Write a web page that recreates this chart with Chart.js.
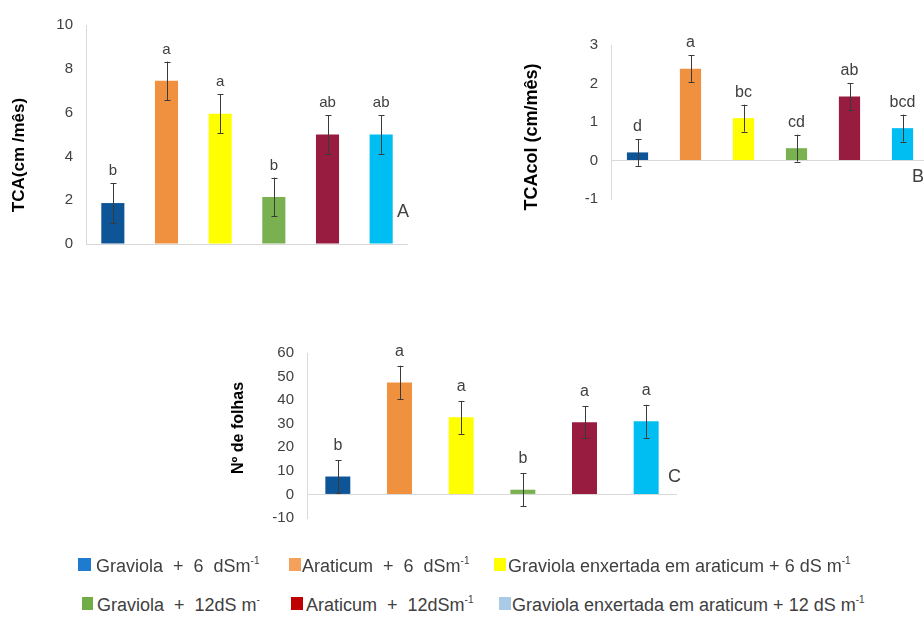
<!DOCTYPE html>
<html>
<head>
<meta charset="utf-8">
<script src="https://cdn.jsdelivr.net/npm/chart.js@4.4.1/dist/chart.umd.min.js"></script>
<style>
  html, body { margin:0; padding:0; width:924px; height:619px; overflow:hidden; background:#fff; }
  canvas { position:absolute; }
  .sw { position:absolute; }
  .lt { position:absolute; font-family:"Liberation Sans", Arial, sans-serif; font-size:18px; line-height:18px;
        color:#404040; white-space:pre; }
  .lt sup { font-size:10px; vertical-align:8px; line-height:0; }
</style>
</head>
<body>
<canvas id="cA" width="420" height="280" style="left:0px;top:0px;width:420px;height:280px"></canvas>
<canvas id="cB" width="452" height="230" style="left:480px;top:0px;width:452px;height:230px"></canvas>
<canvas id="cC" width="480" height="230" style="left:220px;top:330px;width:480px;height:230px"></canvas>
<div id="legend"></div>
<script>
// ---------------- DATA ----------------
const categories = [
  'Graviola + 6 dSm-1',
  'Araticum + 6 dSm-1',
  'Graviola enxertada em araticum + 6 dS m-1',
  'Graviola + 12dS m-',
  'Araticum + 12dSm-1',
  'Graviola enxertada em araticum + 12 dS m-1'
];
// Panel A: TCA (cm/mês)
const tcaValues  = [1.87, 7.45, 5.95, 2.15, 5.0, 5.0];
const tcaErrors  = [0.9, 0.88, 0.88, 0.88, 0.88, 0.88];
const tcaLetters = ['b', 'a', 'a', 'b', 'ab', 'ab'];
const tcaTicks   = [0, 2, 4, 6, 8, 10];
// Panel B: TCAcol (cm/mês)
const tcacolValues  = [0.21, 2.38, 1.1, 0.32, 1.66, 0.84];
const tcacolErrors  = [0.35, 0.35, 0.35, 0.35, 0.35, 0.35];
const tcacolLetters = ['d', 'a', 'bc', 'cd', 'ab', 'bcd'];
const tcacolTicks   = [-1, 0, 1, 2, 3];
// Panel C: Nº de folhas
const folhasValues  = [7.6, 47.5, 32.7, 2.0, 30.6, 31.0];
const folhasErrors  = [7.0, 7.1, 7.0, 7.1, 6.8, 7.0];
const folhasLetters = ['b', 'a', 'a', 'b', 'a', 'a'];
const folhasTicks   = [-10, 0, 10, 20, 30, 40, 50, 60];
// Legend
const legendNames = ['Graviola  +  6  dSm', 'Araticum  +  6  dSm', 'Graviola enxertada em araticum + 6 dS m',
                     'Graviola  +  12dS m', 'Araticum  +  12dSm', 'Graviola enxertada em araticum + 12 dS m'];
const legendSups  = ['-1', '-1', '-1', '-', '-1', '-1'];

// ---------------- STYLE ----------------
const barColors    = ['#0e5597', '#f0913f', '#ffff00', '#7ab150', '#971c3f', '#00bef2'];
const swatchColors = ['#1e7bd0', '#f4a15c', '#ffff00', '#70ad47', '#c00000', '#a9cbe8'];
const FONT = '"Liberation Sans", Arial, sans-serif';

const errorBarPlugin = {
  id: 'errorBars',
  afterDatasetsDraw(chart, args, opts) {
    const ctx = chart.ctx;
    const meta = chart.getDatasetMeta(0);
    const ys = chart.scales.y;
    const vals = chart.data.datasets[0].data;
    ctx.save();
    ctx.strokeStyle = '#3a3a3a';
    ctx.lineWidth = 1;
    meta.data.forEach((bar, i) => {
      const x = Math.round(bar.x) + 0.5;
      const yt = ys.getPixelForValue(vals[i] + opts.errors[i]);
      const yb = ys.getPixelForValue(vals[i] - opts.errors[i]);
      ctx.beginPath();
      ctx.moveTo(x, yt); ctx.lineTo(x, yb);
      ctx.moveTo(x - 3, Math.round(yt) + 0.5); ctx.lineTo(x + 3, Math.round(yt) + 0.5);
      ctx.moveTo(x - 3, Math.round(yb) + 0.5); ctx.lineTo(x + 3, Math.round(yb) + 0.5);
      ctx.stroke();
      ctx.fillStyle = '#404040';
      ctx.font = opts.letterFont;
      ctx.textAlign = 'center';
      ctx.textBaseline = 'alphabetic';
      ctx.fillText(opts.letters[i], bar.x, yt - opts.gap);
    });
    // panel letter
    ctx.font = opts.panelFont;
    ctx.textAlign = 'left';
    ctx.fillStyle = '#404040';
    ctx.fillText(opts.panel, opts.panelX, opts.panelY);
    // y-axis title
    ctx.save();
    ctx.translate(opts.titleX, opts.titleY);
    ctx.rotate(-Math.PI / 2);
    ctx.font = opts.titleFont;
    ctx.fillStyle = '#000';
    ctx.textAlign = 'center';
    ctx.textBaseline = 'middle';
    ctx.fillText(opts.title, 0, 0);
    ctx.restore();
    ctx.restore();
  }
};

function makeChart(id, values, ticks, barPct, yWidth, padding, ep) {
  return new Chart(document.getElementById(id), {
    type: 'bar',
    data: {
      labels: categories,
      datasets: [{ data: values, backgroundColor: barColors, borderWidth: 0,
                   barPercentage: barPct, categoryPercentage: 1 }]
    },
    options: {
      responsive: false, animation: false, devicePixelRatio: 1,
      layout: { padding: padding },
      plugins: { legend: { display: false }, tooltip: { enabled: false }, errorBars: ep },
      scales: {
        x: { display: false },
        y: {
          min: ticks[0], max: ticks[ticks.length - 1],
          afterBuildTicks: s => { s.ticks = ticks.map(v => ({ value: v })); },
          afterFit: s => { s.width = yWidth; },
          border: { display: true, color: '#d9d9d9', width: 1 },
          grid: { drawTicks: false, lineWidth: 1,
                  color: c => (c.tick && c.tick.value === 0) ? '#d9d9d9' : 'rgba(0,0,0,0)' },
          ticks: { padding: 13, color: '#404040', font: { family: FONT, size: 15 } }
        }
      }
    },
    plugins: [errorBarPlugin]
  });
}

makeChart('cA', tcaValues, tcaTicks, 0.43, 86, { top: 25, right: 12, bottom: 36, left: 0 }, {
  errors: tcaErrors, letters: tcaLetters, gap: 8, letterFont: '15px ' + FONT,
  panel: 'A', panelX: 397, panelY: 217, panelFont: '18px ' + FONT,
  title: 'TCA(cm /mês)', titleX: 19, titleY: 155, titleFont: 'bold 17px ' + FONT
});

makeChart('cB', tcacolValues, tcacolTicks, 0.40, 131, { top: 45, right: 3, bottom: 31, left: 0 }, {
  errors: tcacolErrors, letters: tcacolLetters, gap: 8, letterFont: '16px ' + FONT,
  panel: 'B', panelX: 432, panelY: 182, panelFont: '18px ' + FONT,
  title: 'TCAcol (cm/mês)', titleX: 52, titleY: 137, titleFont: 'bold 18px ' + FONT
});

makeChart('cC', folhasValues, folhasTicks, 0.405, 87, { top: 23, right: 23, bottom: 42, left: 0 }, {
  errors: folhasErrors, letters: folhasLetters, gap: 10, letterFont: '16px ' + FONT,
  panel: 'C', panelX: 448, panelY: 152, panelFont: '18px ' + FONT,
  title: 'Nº de folhas', titleX: 18.5, titleY: 98, titleFont: 'bold 16px ' + FONT
});

// ---------------- LEGEND ----------------
const legendPos = [
  { sx: 78, sw: 13, cy: 566, tx: 96 },
  { sx: 289, sw: 12, cy: 566, tx: 302 },
  { sx: 494, sw: 12, cy: 566, tx: 508 },
  { sx: 82, sw: 11, cy: 605, tx: 97 },
  { sx: 291, sw: 12, cy: 605, tx: 306 },
  { sx: 499, sw: 12, cy: 605, tx: 512 }
];
const lg = document.getElementById('legend');
legendNames.forEach((name, i) => {
  const p = legendPos[i];
  const sw = document.createElement('div');
  sw.className = 'sw';
  sw.style.left = p.sx + 'px'; sw.style.top = (p.cy - 8) + 'px';
  sw.style.width = p.sw + 'px'; sw.style.height = '13px';
  sw.style.background = swatchColors[i];
  lg.appendChild(sw);
  const t = document.createElement('div');
  t.className = 'lt';
  t.style.left = p.tx + 'px'; t.style.top = (p.cy - 9) + 'px';
  t.textContent = name;
  const s = document.createElement('sup');
  s.textContent = legendSups[i];
  t.appendChild(s);
  lg.appendChild(t);
});
</script>
</body>
</html>
